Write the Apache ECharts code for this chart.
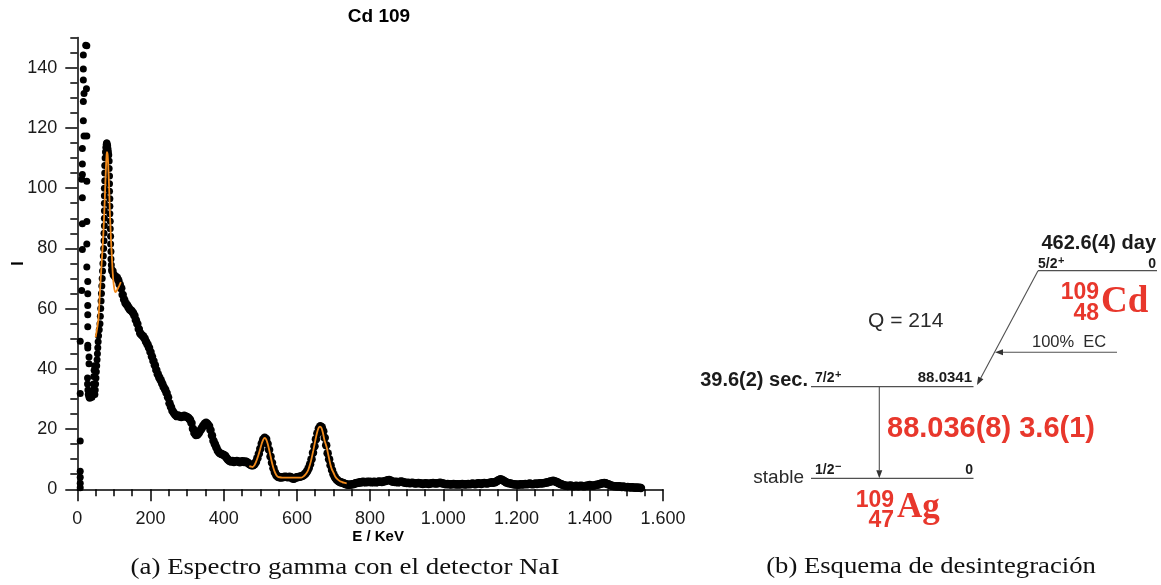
<!DOCTYPE html>
<html>
<head>
<meta charset="utf-8">
<title>Cd 109</title>
<script src="https://cdn.jsdelivr.net/npm/echarts@6/dist/echarts.min.js"></script>
<style>
  html, body { margin: 0; padding: 0; background: #ffffff; }
  #main { width: 1161px; height: 585px; }
</style>
</head>
<body>
<div id="main"></div>
<script>
// ---------- Spectrum data (NaI detector, Cd-109 source) ----------

// Sparse channels at the very low-energy end: [E keV, counts]
const lowEnergyDots = [
  [23,147.5],[26,147.3],[16.5,144.2],[16.5,139.6],[16.5,135.9],[25,133],[18.4,131.4],
  [16.5,128.8],[16.5,122.4],[18.4,117.3],[26,117.3],[13.8,113.2],[13.8,108],[13.8,104.5],
  [12,103],[26,102.3],[13.8,96.8],[13.8,88.2],[26,88.9],[26,81.5],[13.8,79.6],[26,73.8],
  [12,66],[28.6,69],[28.6,64.9],[28.6,61],[28.6,58],[28.6,54],[8,49.2],[28.6,47.8],
  [28.6,46.9],[32,43.9],[32,41.7],[8,31.8],[8,16],[8,6],[8,4],[8,2],[8,0.5]
];

// Valley and 88 keV photopeak: [E keV, counts]
const peak88Dots = [
  [28,37],[28,35],[29,33],[30,31.5],[32,30.6],[34,30.2],[36,30.5],[38,31],[40,30.6],
  [42,31.2],[43,33],[44,35],[45,37.5],[46,39.5],[47,41],[48,31.5],[49,33],[50,35],[51,37],
  [52,39],[53,41],[54,43],[55,45],[56,47],[57,49],[58,51],[60,53],[62,55],[63,57.5],[64,60],
  [65,62.5],[66,65],[67,67.5],[68,70],[69,72.5],[70,75],[71,77.5],[72,80],[73,82.5],[73,85],
  [74,87.5],[74,90],[74,92.5],[74,95],[74,97.5],[74,100],[75,102.5],[75,105],[75,107.5],
  [76,110],[77,112],[78,113.5],[79,114.5],[80,115],[81,115],[82,114.5],[83,114],[84,113],
  [85,112],[86,111],[87,109],[87,106.5],[88,104],[88,101.5],[88,99],[89,96.5],[89,94],
  [89,91.5],[90,89],[90,86.5],[91,84],[91,81.5],[92,79],[92,76.5],[93,74.5],[94,73]
];

// Channel counts from 96 keV upward, one value every 4 keV
const spectrumStartKeV = 96;
const spectrumStepKeV = 4;
const spectrumCounts = [
  72.5, 71.2, 70.6, 70.3, 69.4, 68.0, 66.8, 64.6, 63.0, 61.8,
  61.2, 60.4, 59.6, 59.3, 58.6, 57.7, 56.2, 55.0, 53.2, 51.8,
  51.2, 50.8, 50.1, 49.0, 48.1, 47.0, 45.6, 44.1, 42.6, 41.2,
  39.6, 38.2, 37.1, 36.2, 35.1, 34.0, 33.1, 32.0, 30.6, 28.6,
  27.3, 26.1, 25.3, 24.7, 24.3, 24.5, 24.2, 24.0, 24.2, 24.4,
  24.2, 24.0, 23.7, 23.1, 22.0, 20.1, 18.7, 18.0, 18.1, 18.7,
  19.5, 20.3, 21.1, 21.8, 22.1, 21.7, 21.0, 19.7, 17.9, 16.1,
  15.0, 13.9, 12.8, 12.1, 11.8, 11.6, 11.4, 11.1, 10.4, 9.8,
  9.4, 9.2, 9.4, 9.1, 9.3, 9.4, 9.2, 9.0, 9.2, 9.3,
  9.1, 9.2, 9.0, 8.6, 8.2, 8.0, 8.0, 8.3, 9.1, 10.3,
  11.8, 13.5, 15.2, 16.5, 17.1, 16.7, 15.1, 13.1, 10.9, 8.8,
  7.0, 5.6, 4.7, 4.2, 4.0, 3.9, 4.0, 4.1, 4.2, 4.1,
  4.0, 4.2, 4.0, 3.6, 3.5, 3.8, 4.0, 4.1, 4.2, 4.3,
  4.5, 4.8, 5.3, 6.0, 7.0, 8.3, 10.0, 12.1, 14.3, 16.6,
  18.6, 20.2, 20.9, 20.6, 19.3, 17.1, 14.6, 12.0, 10.0, 8.0,
  6.4, 5.0, 4.0, 3.3, 2.8, 2.5, 2.3, 2.2, 2.0, 1.8,
  1.6, 1.5, 1.5, 1.6, 1.7, 1.8, 2.0, 2.1, 2.2, 2.3,
  2.3, 2.5, 2.4, 2.3, 2.5, 2.4, 2.5, 2.3, 2.4, 2.5,
  2.3, 2.4, 2.6, 2.5, 2.4, 2.6, 2.7, 2.8, 3.0, 3.1,
  2.9, 2.6, 2.5, 2.4, 2.5, 2.3, 2.4, 2.6, 2.5, 2.3,
  2.2, 2.1, 2.2, 2.0, 2.1, 2.2, 2.0, 1.9, 2.0, 2.1,
  2.0, 1.9, 1.8, 1.9, 2.0, 1.9, 1.8, 1.9, 2.0, 2.1,
  2.0, 1.9, 2.0, 2.1, 2.2, 2.0, 1.9, 1.8, 1.7, 1.8,
  1.7, 1.6, 1.7, 1.8, 1.7, 1.6, 1.7, 1.6, 1.7, 1.8,
  1.7, 1.6, 1.7, 1.8, 1.7, 1.8, 1.9, 1.8, 1.7, 1.9,
  2.0, 1.9, 1.8, 2.0, 2.1, 2.0, 1.9, 2.1, 2.2, 2.3,
  2.2, 2.3, 2.5, 2.8, 3.1, 3.3, 3.2, 2.9, 2.6, 2.3,
  2.1, 2.0, 1.9, 1.8, 1.7, 1.6, 1.6, 1.5, 1.6, 1.7,
  1.6, 1.7, 1.8, 1.7, 1.8, 1.9, 1.8, 1.7, 1.8, 1.9,
  1.8, 1.9, 2.0, 1.9, 2.0, 2.1, 2.2, 2.3, 2.4, 2.6,
  2.7, 2.8, 2.7, 2.5, 2.3, 2.0, 1.8, 1.6, 1.4, 1.3,
  1.2, 1.1, 1.2, 1.3, 1.1, 1.0, 1.1, 1.2, 1.0, 1.1,
  1.2, 1.1, 1.0, 1.1, 1.2, 1.3, 1.4, 1.3, 1.2, 1.3,
  1.4, 1.5, 1.6, 1.8, 1.9, 2.0, 2.1, 2.0, 1.8, 1.6,
  1.4, 1.2, 1.1, 1.0, 1.0, 0.9, 1.0, 0.9, 0.8, 0.9,
  0.8, 0.7, 0.8, 0.7, 0.6, 0.7, 0.6, 0.5, 0.6, 0.5,
  0.5, 0.4
];

// Fitted peak shapes: [E keV, counts]
const fit88 = [
  [50,50.5],[55,54],[58,57],[62,66],[66,74],[70,82],[72,87],[75,96],[78,106],[80,111],
  [81,112],[83,111],[85,106],[87,100],[89,92],[92,83],[94.6,77],[97,71.5],[100,67.5],
  [103.7,65.5],[107,65.8],[110,66.5],[114,67.5],[119,68.8]
];
const fitHighPeaks = [
  [470,7.7],[475,7.5],[479,7.4],[484,8],[488,9],[492,10.3],[496,11.8],[500,13.5],[504,15.2],
  [508,16.5],[512,17.1],[516,16.6],[520,15.2],[524,13.2],[528,11],[532,8.8],[536,7.0],
  [540,5.6],[544,4.7],[548,4.2],[553,4.0],[560,3.9],[570,3.9],[580,3.9],[590,3.9],[600,3.9],
  [612,3.9],[620,4.5],[626,5.3],[631,6.4],[636,8.3],[640,10.2],[645,13],[650,16],[655,18.8],
  [659,20.3],[663,20.8],[667,20.4],[671,18.8],[675,16.5],[681,14.1],[686,11.3],[691,8.5],
  [695,6.8],[700,5.5],[706,4.0],[712,3.2],[718,2.7],[722,2.5],[728,2.2],[736,2.0]
];

// Axis ticks
const xMajorTicks = [0, 200, 400, 600, 800, 1000, 1200, 1400, 1600];
const yMajorTicks = [0, 20, 40, 60, 80, 100, 120, 140];
const xMinorStep = 50;
const yMinorStep = 5;

// ---------- Decay scheme text ----------
const parentHalfLife = '462.6(4) day';
const parentSpin = ['5/2', '+'];
const parentLevel = '0';
const parentMass = '109', parentZ = '48', parentSymbol = 'Cd';
const qValueText = 'Q = 214';
const ecBranch = '100%  EC';
const excitedHalfLife = '39.6(2) sec.';
const excitedSpin = ['7/2', '+'];
const excitedLevel = '88.0341';
const gammaText = '88.036(8) 3.6(1)';
const groundHalfLife = 'stable';
const groundSpin = ['1/2', '\u2212'];
const groundLevel = '0';
const daughterMass = '109', daughterZ = '47', daughterSymbol = 'Ag';

const captionA = '(a) Espectro gamma con el detector NaI';
const captionB = '(b) Esquema de desintegraci\u00f3n';

// ---------- Build ----------
const SANS = '"Liberation Sans", Arial, Helvetica, sans-serif';
const SERIF = '"Liberation Serif", "Times New Roman", serif';
const RED = '#e8372c';
const LINE_GRAY = '#505050';
const INK = '#1b1b1b';

const bandData = spectrumCounts.map((c, i) => [spectrumStartKeV + i * spectrumStepKeV, c]);
const xMinorTicks = [];
for (let v = 0; v <= 1600; v += xMinorStep) xMinorTicks.push(v);
const yMinorTicks = [];
for (let v = 0; v <= 150; v += yMinorStep) yMinorTicks.push(v);

const thousands = v => String(v).replace(/\B(?=(\d{3})+(?!\d))/g, '.');

const axisLineStyle = { color: '#000', width: 1.5 };
const labelStyle = { color: '#1a1a1a', fontFamily: SANS, fontSize: 18 };

function txt(x, y, text, font, opts) {
  opts = opts || {};
  return {
    type: 'text', x: x, y: y, silent: true, z: 10,
    scaleX: opts.scaleX || 1,
    style: {
      text: text, font: font, fill: opts.fill || INK,
      align: opts.align || 'left', verticalAlign: opts.v || 'middle',
      textAlign: opts.align || 'left', textVerticalAlign: opts.v || 'middle'
    }
  };
}
function seg(x1, y1, x2, y2, w) {
  return { type: 'line', silent: true, z: 5,
    shape: { x1: x1, y1: y1, x2: x2, y2: y2 },
    style: { stroke: LINE_GRAY, lineWidth: w || 1.3 } };
}
function arrow(x1, y1, x2, y2) {
  const dx = x2 - x1, dy = y2 - y1, L = Math.hypot(dx, dy);
  const ux = dx / L, uy = dy / L, len = 8, hw = 3;
  const bx = x2 - ux * len, by = y2 - uy * len;
  return [
    seg(x1, y1, bx, by, 1.1),
    { type: 'polygon', silent: true, z: 5,
      shape: { points: [[x2, y2], [bx - uy * hw, by + ux * hw], [bx + uy * hw, by - ux * hw]] },
      style: { fill: '#333' } }
  ];
}
function spin(x, y, parts) {
  return [
    txt(x, y, parts[0], 'bold 14px ' + SANS),
    txt(x + 20, y - 3, parts[1], 'bold 11px ' + SANS)
  ];
}

const schemeGraphics = [].concat(
  // parent level
  [txt(1156, 243, parentHalfLife, 'bold 20px ' + SANS, { align: 'right' })],
  spin(1038, 264, parentSpin),
  [txt(1156, 264, parentLevel, 'bold 14px ' + SANS, { align: 'right' })],
  [seg(1038, 270.7, 1157, 270.7)],
  [txt(1099, 293, parentMass, 'bold 23px ' + SANS, { align: 'right', fill: RED }),
   txt(1099, 313.5, parentZ, 'bold 23px ' + SANS, { align: 'right', fill: RED }),
   txt(1101, 302, parentSymbol, 'bold 37px ' + SERIF, { fill: RED })],
  [txt(868, 321, qValueText, '21px ' + SANS, { fill: '#2a2a2a' })],
  // electron capture branch
  arrow(1038, 270.7, 977, 385),
  [txt(1032, 342, ecBranch, '16.5px ' + SANS, { fill: '#2a2a2a' })],
  arrow(1117, 352.3, 995, 352.3),
  // excited level in Ag-109
  [txt(808, 380, excitedHalfLife, 'bold 20px ' + SANS, { align: 'right' })],
  spin(815, 378, excitedSpin),
  [txt(972, 378, excitedLevel, 'bold 15px ' + SANS, { align: 'right' })],
  [seg(811, 386.7, 973.5, 386.7)],
  // gamma transition
  arrow(879.3, 386.7, 879.3, 478.3),
  [txt(887, 429, gammaText, 'bold 29px ' + SANS, { fill: RED })],
  // ground state
  [txt(804, 478, groundHalfLife, '19px ' + SANS, { align: 'right', fill: '#2a2a2a' })],
  spin(815, 470, groundSpin),
  [txt(973, 470, groundLevel, 'bold 14px ' + SANS, { align: 'right' })],
  [seg(811, 478.3, 973.5, 478.3)],
  [txt(894, 501, daughterMass, 'bold 23px ' + SANS, { align: 'right', fill: RED }),
   txt(894, 521, daughterZ, 'bold 23px ' + SANS, { align: 'right', fill: RED }),
   txt(897, 508, daughterSymbol, 'bold 35px ' + SERIF, { fill: RED })],
  // captions and title
  [txt(345, 568, captionA, '23px ' + SERIF, { align: 'center', fill: '#111', scaleX: 1.17 }),
   txt(931, 567, captionB, '23px ' + SERIF, { align: 'center', fill: '#111', scaleX: 1.16 }),
   txt(379, 17, 'Cd 109', 'bold 19px ' + SANS, { align: 'center', fill: '#000' })]
);

const chart = echarts.init(document.getElementById('main'), null, { renderer: 'canvas' });
chart.setOption({
  animation: false,
  backgroundColor: '#ffffff',
  grid: {
    left: 77.3, top: 37.6, width: 585.6, height: 451.7,
    containLabel: false, outerBoundsMode: 'none'
  },
  xAxis: [
    {
      type: 'value', min: 0, max: 1600, position: 'bottom',
      axisLine: { show: true, lineStyle: axisLineStyle },
      axisTick: { show: true, customValues: xMajorTicks, length: 12, lineStyle: axisLineStyle },
      axisLabel: { customValues: xMajorTicks, margin: 21, formatter: thousands, ...labelStyle },
      splitLine: { show: false },
      name: 'E / KeV', nameLocation: 'middle', nameGap: 40, nameMoveOverlap: false,
      nameTextStyle: { fontFamily: SANS, fontWeight: 'bold', fontSize: 15, color: '#000', padding: [0, 0, 0, 16] }
    },
    {
      type: 'value', min: 0, max: 1600, position: 'bottom',
      axisLine: { show: false },
      axisTick: { show: true, customValues: xMinorTicks, length: 7, lineStyle: axisLineStyle },
      axisLabel: { show: false }, splitLine: { show: false }
    }
  ],
  yAxis: [
    {
      type: 'value', min: 0, max: 150, position: 'left',
      axisLine: { show: true, lineStyle: axisLineStyle },
      axisTick: { show: true, customValues: yMajorTicks, length: 12, lineStyle: axisLineStyle },
      axisLabel: { customValues: yMajorTicks, margin: 20, ...labelStyle },
      splitLine: { show: false },
      name: 'I', nameLocation: 'middle', nameGap: 51, nameRotate: 90, nameMoveOverlap: false,
      nameTextStyle: { fontFamily: SANS, fontWeight: 'bold', fontSize: 16, color: '#000' }
    },
    {
      type: 'value', min: 0, max: 150, position: 'left', offset: 0,
      axisLine: { show: false },
      axisTick: { show: true, customValues: yMinorTicks, length: 7, lineStyle: axisLineStyle },
      axisLabel: { show: false }, splitLine: { show: false }
    }
  ],
  series: [
    { type: 'scatter', name: 'low energy', data: lowEnergyDots, symbolSize: 7,
      itemStyle: { color: '#000', opacity: 1 }, z: 2 },
    { type: 'scatter', name: '88 keV', data: peak88Dots, symbolSize: 7,
      itemStyle: { color: '#000', opacity: 1 }, z: 2 },
    { type: 'scatter', name: 'spectrum', data: bandData, symbolSize: 8.5,
      itemStyle: { color: '#000', opacity: 1 }, z: 2 },
    { type: 'line', name: 'fit 88', data: fit88, smooth: 0.3, showSymbol: false,
      lineStyle: { color: '#f28a1a', width: 1.8 }, z: 4 },
    { type: 'line', name: 'fit 511/662', data: fitHighPeaks, smooth: 0.3, showSymbol: false,
      lineStyle: { color: '#f28a1a', width: 1.8 }, z: 4 }
  ],
  graphic: schemeGraphics
});
</script>
</body>
</html>
